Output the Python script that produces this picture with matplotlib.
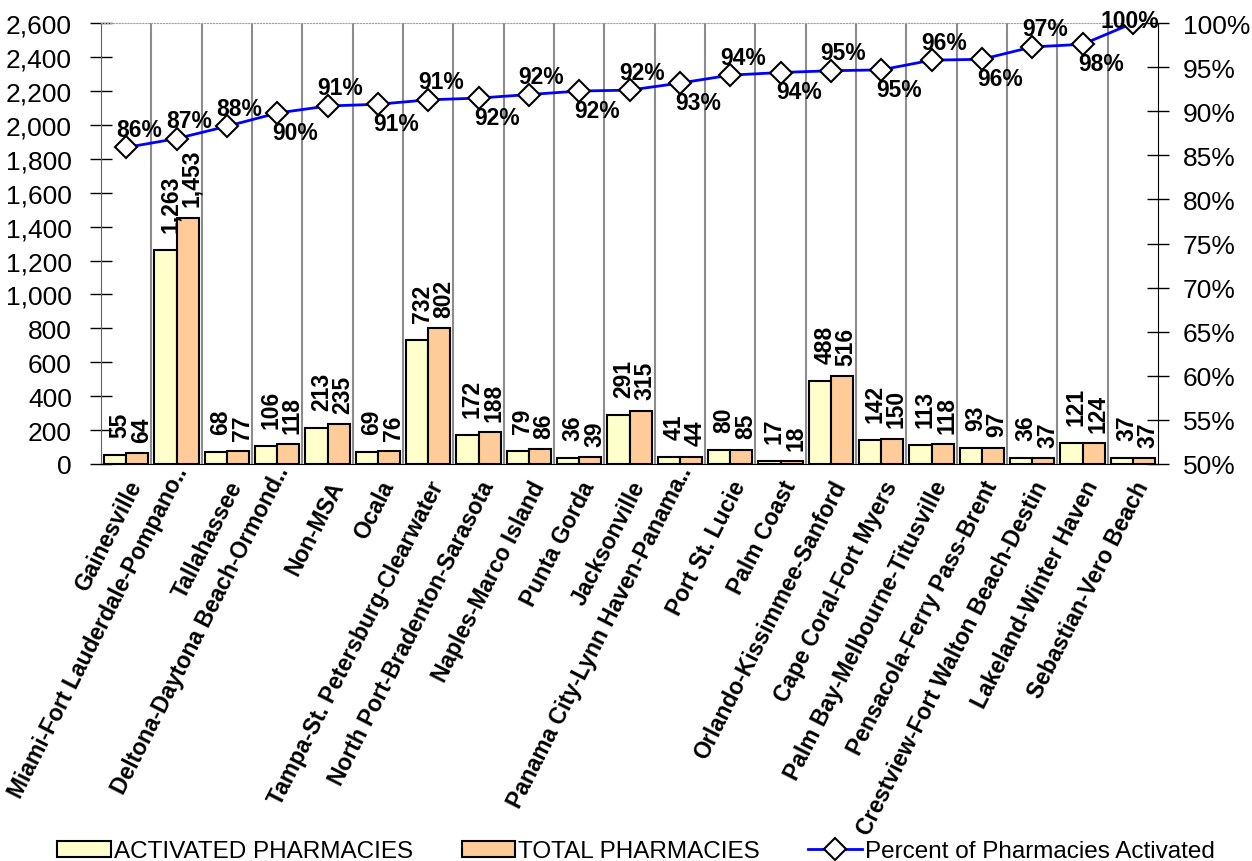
import numpy as np
import matplotlib
matplotlib.use('Agg')
import matplotlib.pyplot as plt
from matplotlib.ticker import FuncFormatter, PercentFormatter

plt.rcParams['font.family'] = ['Liberation Sans', 'DejaVu Sans']

# 数据
msa = ['Gainesville', 'Miami-Fort Lauderdale-Pompano..', 'Tallahassee',
       'Deltona-Daytona Beach-Ormond..', 'Non-MSA', 'Ocala',
       'Tampa-St. Petersburg-Clearwater', 'North Port-Bradenton-Sarasota',
       'Naples-Marco Island', 'Punta Gorda', 'Jacksonville',
       'Panama City-Lynn Haven-Panama..', 'Port St. Lucie', 'Palm Coast',
       'Orlando-Kissimmee-Sanford', 'Cape Coral-Fort Myers',
       'Palm Bay-Melbourne-Titusville', 'Pensacola-Ferry Pass-Brent',
       'Crestview-Fort Walton Beach-Destin', 'Lakeland-Winter Haven',
       'Sebastian-Vero Beach']
activated = [55, 1263, 68, 106, 213, 69, 732, 172, 79, 36, 291, 41, 80, 17,
             488, 142, 113, 93, 36, 121, 37]
total = [64, 1453, 77, 118, 235, 76, 802, 188, 86, 39, 315, 44, 85, 18,
         516, 150, 118, 97, 37, 124, 37]
pct = [0.859, 0.869, 0.883, 0.898, 0.906, 0.908, 0.913, 0.915, 0.919, 0.923,
       0.924, 0.932, 0.941, 0.944, 0.946, 0.947, 0.958, 0.959, 0.973, 0.976,
       1.0]
# 标签在线上方(True)还是下方(False)
pct_above = [True, True, True, False, True, False, True, False, True, False,
             True, False, True, False, True, False, True, False, True, False,
             True]

fig = plt.figure(figsize=(12.52, 8.62), dpi=100)
ax = fig.add_axes([0.0807, 0.4606, 0.8443, 0.5114])
x = np.arange(len(msa))
w = 0.44

b1 = ax.bar(x - w / 2, activated, w, color='#FFFFCC', edgecolor='black',
            linewidth=1.5, label='ACTIVATED PHARMACIES', zorder=3)
b2 = ax.bar(x + w / 2, total, w, color='#FFCC99', edgecolor='black',
            linewidth=1.5, label='TOTAL PHARMACIES', zorder=3)

for xi, v in zip(x, activated):
    ax.annotate(f'{v:,}', (xi - w / 2, v), xytext=(3.5, 13), textcoords='offset points',
                rotation=90, ha='center', va='bottom', fontsize=16.5, fontweight='bold')
for xi, v in zip(x, total):
    ax.annotate(f'{v:,}', (xi + w / 2, v), xytext=(3, 8), textcoords='offset points',
                rotation=90, ha='center', va='bottom', fontsize=16.5, fontweight='bold')

ax.set_xlim(-0.5, len(msa) - 0.5)
ax.set_ylim(0, 2600)
ax.set_yticks(range(0, 2601, 200))
ax.yaxis.set_major_formatter(FuncFormatter(lambda v, p: f'{int(v):,}'))
ax.tick_params(axis='y', labelsize=19, direction='inout', length=16, width=1, pad=13)
ax.set_xticks(x)
ax.tick_params(axis='x', length=0, labelbottom=False)

# x轴标签 (截断的标签位置略高)
for xi, name in zip(x, msa):
    off = (8.5, -4.5) if name.endswith('..') else (11.5, -15)
    ax.annotate(name, (xi, 0), xycoords=('data', 'axes fraction'), xytext=off,
                textcoords='offset points', rotation=63, rotation_mode='anchor',
                ha='right', va='baseline', fontsize=16.5, fontweight='bold')

# 分类之间的竖直网格线
for b in np.arange(0.5, len(msa) - 0.5, 1):
    ax.axvline(b, color='#8c8c8c', linewidth=1.5, zorder=1)
ax.spines['top'].set_color('#a0a0a0')
ax.spines['top'].set_linestyle(':')
ax.spines['left'].set_color('#606060')
ax.spines['right'].set_visible(False)

ax2 = ax.twinx()
ln, = ax2.plot(x, pct, color='#0000FF', linewidth=2, marker='D', markersize=11,
               markerfacecolor='white', markeredgecolor='black', markeredgewidth=1.5,
               label='Percent of Pharmacies Activated', zorder=5)
ax2.set_ylim(0.5, 1.0)
ax2.set_yticks(np.arange(0.5, 1.001, 0.05))
ax2.yaxis.set_major_formatter(PercentFormatter(1.0, decimals=0))
ax2.tick_params(axis='y', labelsize=19, direction='inout', length=16, width=1, pad=10)
ax2.spines['right'].set_color('black')
ax2.spines['top'].set_visible(False)
ax2.spines['left'].set_visible(False)
ax2.spines['bottom'].set_visible(False)

for xi, p, up in zip(x, pct, pct_above):
    if xi == len(msa) - 1:
        off = (-2, 2)
    elif up:
        off = (9, 13)
    else:
        off = (13, -14)
    ax2.annotate(f'{p:.0%}', (xi, p), xytext=off, textcoords='offset points',
                 ha='center', va='center', fontsize=16.5, fontweight='bold', zorder=6)

fig.legend(handles=[b1, b2, ln], loc='lower center', bbox_to_anchor=(0.508, -0.027),
           ncol=3, frameon=False, handlelength=2.2, handleheight=0.6,
           columnspacing=2.0, handletextpad=0.12,
           prop={'family': ['Liberation Sans', 'DejaVu Sans'], 'size': 17.5})

fig.savefig('out.png', dpi=100)
